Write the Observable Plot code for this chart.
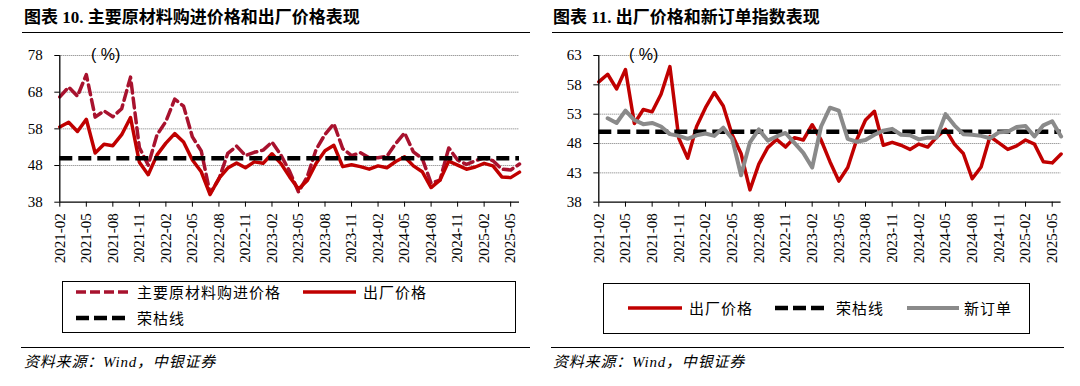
<!DOCTYPE html>
<html><head><meta charset="utf-8">
<script src="https://cdn.jsdelivr.net/npm/d3@7"></script>
<script src="https://cdn.jsdelivr.net/npm/@observablehq/plot@0.6"></script>
<style>
body{margin:0;background:#fff;width:1080px;height:386px;position:relative;overflow:hidden;font-family:"Liberation Serif","Noto Sans CJK SC",serif;color:#000;}
.abs{position:absolute;white-space:nowrap;}
.title{font-size:17px;font-weight:bold;line-height:20px;}
.rule{position:absolute;height:0;border-top:1.5px solid #000;}
.lg{position:absolute;border:1.5px solid #000;box-sizing:border-box;}
.lt{position:absolute;white-space:nowrap;font-family:"Noto Sans CJK SC";font-size:15px;letter-spacing:1px;line-height:20px;}
.foot{font-style:italic;font-size:15px;letter-spacing:0.8px;line-height:18px;}
.unit{font-family:"Liberation Sans";font-size:16px;line-height:18px;}
svg.sw{position:absolute;overflow:visible;}
</style></head><body>
<div id="p1" class="abs" style="left:0;top:40px"></div>
<div id="p2" class="abs" style="left:540px;top:40px"></div>

<div class="abs title" style="left:24px;top:8px">图表 10. 主要原材料购进价格和出厂价格表现</div>
<div class="abs title" style="left:553px;top:8px">图表 11. 出厂价格和新订单指数表现</div>
<div class="rule" style="left:22px;top:32px;width:508px"></div>
<div class="rule" style="left:552px;top:32px;width:511px"></div>
<div class="abs unit" style="left:91px;top:46px">( %)</div>
<div class="abs unit" style="left:629px;top:46px">( %)</div>

<div class="lg" style="left:62px;top:281px;width:454px;height:52px"></div>
<div class="lg" style="left:603px;top:283px;width:427px;height:51px"></div>
<div id="legend"></div>

<div class="rule" style="left:21px;top:347px;width:509px"></div>
<div class="rule" style="left:551px;top:347px;width:513px"></div>
<div class="abs foot" style="left:24px;top:353px">资料来源：Wind，中银证券</div>
<div class="abs foot" style="left:553px;top:353px">资料来源：Wind，中银证券</div>

<script>
// ---- data ----
const startYear = 2021, startMonth = 2, nMonths = 53; // 2021-02 .. 2025-06
const months = [];
for (let i = 0; i < nMonths; i++) {
  const t = (startMonth - 1) + i;
  const y = startYear + Math.floor(t / 12), m = (t % 12) + 1;
  months.push(y + "-" + String(m).padStart(2, "0"));
}
const tickLabels = ["2021-02","2021-05","2021-08","2021-11","2022-02","2022-05","2022-08","2022-11",
  "2023-02","2023-05","2023-08","2023-11","2024-02","2024-05","2024-08","2024-11","2025-02","2025-05"];

// 主要原材料购进价格 (2021-02 .. 2025-06)
const purchase = [66.7,69.4,66.9,72.8,61.2,62.9,61.3,63.5,72.1,52.9,48.1,
  56.4,60.0,66.1,64.2,55.8,52.0,40.4,44.3,51.3,53.3,50.7,51.6,
  52.2,54.4,50.9,46.4,40.8,45.0,52.4,56.5,59.4,52.6,50.7,51.5,
  50.1,50.1,50.5,54.0,56.9,51.7,49.9,43.2,44.0,52.8,49.5,48.3,
  49.3,50.1,49.3,47.0,46.8,48.4];
// 出厂价格 (2021-02 .. 2025-06)
const exFactory = [58.5,59.8,57.3,60.6,51.4,53.8,53.4,56.4,61.1,48.9,45.5,
  50.9,54.1,56.7,54.4,49.5,46.3,40.1,44.5,47.3,48.7,47.4,49.0,
  48.6,51.2,48.6,44.9,41.6,43.9,48.6,52.0,53.5,47.7,48.2,47.7,
  47.0,47.9,47.4,49.1,50.4,47.9,46.3,42.0,44.0,49.2,48.1,47.0,
  47.6,48.6,47.9,44.9,44.7,46.2];
// 新订单 (plotted from 2021-03 .. 2025-06)
const newOrdersStart = "2021-03";
const newOrders = [52.3,51.5,53.6,52.0,51.3,51.5,50.9,49.6,49.3,48.8,49.4,49.7,
  49.3,50.7,48.8,42.6,48.2,50.4,48.5,49.2,49.8,48.1,46.4,43.9,
  50.9,54.1,53.6,48.8,48.3,48.6,49.5,50.2,50.5,49.5,49.4,48.7,
  49.0,49.0,53.0,51.1,49.6,49.5,49.3,48.9,49.9,50.0,50.8,51.0,
  49.2,51.1,51.8,49.2];
const boomBust = 50; // 荣枯线
const leftYTicks = [38,48,58,68,78];
const rightYTicks = [38,43,48,53,58,63];

// ---- build ----
const RED = "#C00000", CRIMSON = "#A8122E", GRAY = "#8A8A8A";
const toRows = (vals, start) => {
  const s = months.indexOf(start);
  return vals.map((v, i) => ({m: months[s + i], v}));
};
const rowsPurchase = toRows(purchase, months[0]);
const rowsEx = toRows(exFactory, months[0]);
const rowsNew = toRows(newOrders, newOrdersStart);

function panel(ml, mr, yTicks, seriesMarks) {
  return Plot.plot({
    width: 540, height: 230,
    marginLeft: ml, marginRight: mr, marginTop: 15, marginBottom: 68.3,
    style: {background: "transparent", fontFamily: "Liberation Serif", fontSize: "15px", color: "#000", overflow: "visible"},
    x: {type: "point", domain: months, padding: 0},
    y: {domain: [yTicks[0], yTicks[yTicks.length - 1]]},
    marks: [
      Plot.gridY(yTicks.slice(1), {stroke: "#777", strokeOpacity: 1, strokeWidth: 1, strokeDasharray: "1,1"}),
      Plot.axisY(yTicks, {tickSize: 5, tickPadding: 12, fontSize: 15, label: null, stroke: "#000"}),
      Plot.axisX(tickLabels, {tickSize: 5, tickPadding: 6, tickRotate: -90, fontSize: 15, label: null, stroke: "#000"}),
      ...seriesMarks,
      Plot.ruleX([months[0]], {stroke: "#000", strokeWidth: 1.3}),
      Plot.ruleY([yTicks[0]], {stroke: "#000", strokeWidth: 1.3})
    ]
  });
}

const boom = Plot.ruleY([boomBust], {stroke: "#000", strokeWidth: 4.5, strokeDasharray: "13,6"});
const p1 = panel(59.3, 21, leftYTicks, [
  Plot.line(rowsPurchase, {x: "m", y: "v", stroke: CRIMSON, strokeWidth: 3.5, strokeDasharray: "10,5", strokeLinejoin: "round"}),
  Plot.line(rowsEx, {x: "m", y: "v", stroke: RED, strokeWidth: 3.5, strokeLinejoin: "round"}),
  boom
]);
const p2 = panel(58.3, 19.4, rightYTicks, [
  Plot.line(rowsEx, {x: "m", y: "v", stroke: RED, strokeWidth: 3.5, strokeLinejoin: "round"}),
  boom,
  Plot.line(rowsNew, {x: "m", y: "v", stroke: GRAY, strokeWidth: 4, strokeLinejoin: "round"})
]);
document.getElementById("p1").appendChild(p1);
document.getElementById("p2").appendChild(p2);

// ---- legends ----
const legendItems = [
  {x1: 76, x2: 130, y: 292, color: CRIMSON, w: 3.5, dash: "10,4", label: "主要原材料购进价格", tx: 137},
  {x1: 303, x2: 356, y: 292, color: RED, w: 3.5, dash: null, label: "出厂价格", tx: 363},
  {x1: 76, x2: 125, y: 318, color: "#000", w: 4.5, dash: "13,5", label: "荣枯线", tx: 137},
  {x1: 628, x2: 682, y: 308, color: RED, w: 3.5, dash: null, label: "出厂价格", tx: 689},
  {x1: 775, x2: 824, y: 308, color: "#000", w: 4.5, dash: "13,5", label: "荣枯线", tx: 836},
  {x1: 907, x2: 959, y: 308, color: GRAY, w: 4, dash: null, label: "新订单", tx: 964}
];
const lg = document.getElementById("legend");
const NS = "http://www.w3.org/2000/svg";
for (const it of legendItems) {
  const s = document.createElementNS(NS, "svg");
  s.setAttribute("class", "sw");
  s.setAttribute("width", it.x2 - it.x1);
  s.setAttribute("height", 8);
  s.style.left = it.x1 + "px";
  s.style.top = (it.y - 4) + "px";
  const l = document.createElementNS(NS, "line");
  l.setAttribute("x1", 0); l.setAttribute("x2", it.x2 - it.x1);
  l.setAttribute("y1", 4); l.setAttribute("y2", 4);
  l.setAttribute("stroke", it.color); l.setAttribute("stroke-width", it.w);
  if (it.dash) l.setAttribute("stroke-dasharray", it.dash);
  s.appendChild(l);
  lg.appendChild(s);
  const t = document.createElement("div");
  t.className = "lt";
  t.textContent = it.label;
  t.style.left = it.tx + "px";
  t.style.top = (it.y - 10) + "px";
  lg.appendChild(t);
}
</script>
</body></html>
